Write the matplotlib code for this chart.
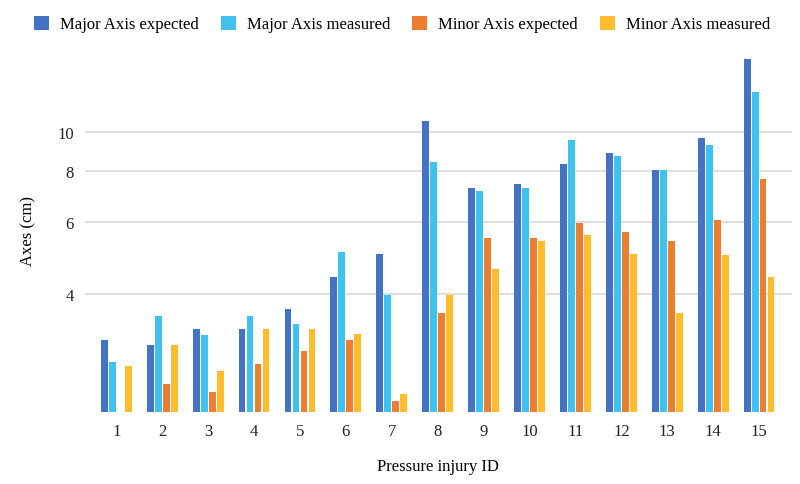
import numpy as np
import matplotlib
matplotlib.use("Agg")
import matplotlib.pyplot as plt
from matplotlib.ticker import FixedLocator, NullLocator, FixedFormatter

ids = [str(i) for i in range(1, 16)]
major_expected = [3.09, 3.00, 3.28, 3.28, 3.68, 4.39, 5.01, 10.64, 7.27, 7.43, 8.34, 8.87, 8.07, 9.63, 15.07]
major_measured = [2.73, 3.54, 3.18, 3.54, 3.38, 5.08, 3.98, 8.44, 7.14, 7.27, 9.56, 8.74, 8.07, 9.28, 12.49]
minor_expected = [np.nan, 2.40, 2.30, 2.70, 2.90, 3.09, 2.19, 3.59, 5.48, 5.48, 5.97, 5.69, 5.40, 6.09, 7.66]
minor_measured = [2.67, 3.00, 2.59, 3.28, 3.28, 3.19, 2.28, 3.98, 4.60, 5.40, 5.57, 5.01, 3.59, 4.99, 4.39]

series = [
    ("Major Axis expected", major_expected, "#4472C4"),
    ("Major Axis measured", major_measured, "#3FC3EE"),
    ("Minor Axis expected", minor_expected, "#ED7D31"),
    ("Minor Axis measured", minor_measured, "#FFBD2E"),
]
yticks = [4, 6, 8, 10]

plt.rcParams['font.family'] = ['Liberation Serif', 'DejaVu Serif']

fig = plt.figure(figsize=(8, 4.85), dpi=100)
ax = fig.add_axes([85/800, 1-412.5/485, (791.7-85)/800, (412.5-50)/485])
ax.set_yscale('log')

x = np.arange(1, len(ids) + 1)
pitch = 0.174
width = 0.148
for k, (name, vals, col) in enumerate(series):
    ax.bar(x + (k - 1.5) * pitch, vals, width=width, color=col, label=name, zorder=3)

ax.set_ylim(2.06, 15.95)
ax.set_xlim(0.318, 15.71)
ax.yaxis.set_major_locator(FixedLocator(yticks))
ax.yaxis.set_major_formatter(FixedFormatter([str(t) for t in yticks]))
ax.yaxis.set_minor_locator(NullLocator())
ax.set_xticks(x)
ax.set_xticklabels(ids)
ax.grid(axis='y', color='#D9D9D9', linewidth=1.2, zorder=0)
for s in ax.spines.values():
    s.set_visible(False)
ax.tick_params(axis='both', length=0, labelsize=12, colors='#222222')
ax.tick_params(axis='y', pad=8)
ax.tick_params(axis='x', pad=8)
ax.set_ylabel("Axes (cm)", fontsize=12, labelpad=15)
ax.set_xlabel("Pressure injury ID", fontsize=12, labelpad=14)

fig.legend(loc='center', bbox_to_anchor=(0.5025, 1-25/485), ncol=4, frameon=False,
           fontsize=12, handlelength=0.9, handleheight=0.9, handletextpad=0.66,
           columnspacing=1.32)

fig.savefig("out.png", dpi=100)
